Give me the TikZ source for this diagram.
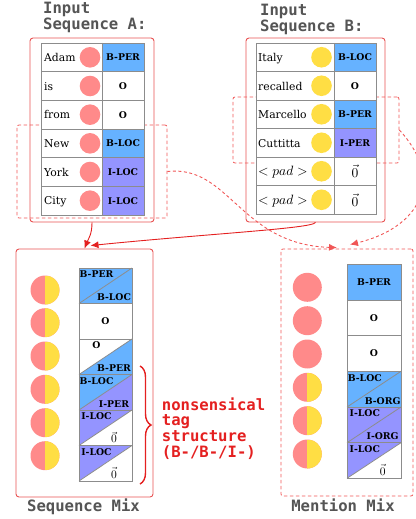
\documentclass[tikz,border=0pt]{standalone}
\usepackage{graphicx}
\usepackage{fontspec}
\setmainfont{DejaVu Serif}
\newfontfamily\monofont{DejaVu Sans Mono}
\usetikzlibrary{arrows.meta,decorations.pathreplacing}
\definecolor{pinkc}{RGB}{255,138,138}
\definecolor{yelc}{RGB}{255,222,68}
\definecolor{bluec}{RGB}{102,178,255}
\definecolor{purc}{RGB}{148,148,255}
\definecolor{redl}{RGB}{232,82,82}
\definecolor{redd}{RGB}{240,86,86}
\definecolor{redt}{RGB}{228,32,32}
\definecolor{grayt}{RGB}{85,85,85}
\definecolor{gridc}{RGB}{140,140,140}
\newcommand\zvec{\scalebox{1.35}{\normalsize$\vec{0}$}}
\newcommand\zvecs{\scalebox{1.15}{\normalsize$\vec{0}$}}
\newcommand\padtxt{\scalebox{1.35}{\normalsize$<pad>$}}
\tikzset{
 mypanel/.style={draw=redl, line width=0.9pt, rounded corners=3pt, inner sep=0pt},
 mydpanel/.style={draw=redd, line width=0.8pt, dash pattern=on 3.5pt off 2.5pt, rounded corners=2pt, inner sep=0pt},
 wordtxt/.style={font=\fontsize{10.8}{12}\selectfont, inner sep=0pt, anchor=base west},
 tagtxt/.style={font=\fontsize{9.3}{10}\selectfont\bfseries, inner sep=0pt},
 circA/.style={circle, inner sep=0pt, minimum size=20.6pt, fill=pinkc},
 circB/.style={circle, inner sep=0pt, minimum size=20.6pt, fill=yelc},
 bigc/.style={circle, inner sep=0pt, minimum size=29pt, fill=pinkc},
 halfc/.style={bigc, path picture={\fill[yelc] (path picture bounding box.north) rectangle (path picture bounding box.south east);}},
 titletxt/.style={font=\fontsize{15.6}{16}\selectfont\monofont\bfseries, text=grayt, inner sep=0pt, anchor=base west},
 notetxt/.style={titletxt, text=redt},
 gridline/.style={draw=gridc, line width=0.8pt},
 conn/.style={draw=redt, line width=0.9pt, -{Latex[length=8pt,width=7pt]}},
 dconn/.style={conn, draw=redd, dash pattern=on 3pt off 2.5pt},
}
\newcommand\dcell[9]{%
 \fill[#6] (#2,#3) -- (#4,#3) -- (#2,#5) -- cycle;
 \fill[#7] (#4,#3) -- (#4,#5) -- (#2,#5) -- cycle;
 \draw[gridline] (#2,#5) -- (#4,#3);
 \node[tagtxt, anchor=base] (#1a) at ({#2+0.33*(#4-#2)},{#3+9.8}) {#8};
 \node[tagtxt, anchor=base] (#1b) at ({#2+0.66*(#4-#2)},{#5-3}) {#9};
}
\newcommand\pcell[7]{%
 \fill[#6] (#2,#3) rectangle (#4,#5);
 \node[tagtxt] (#1a) at ({(#2+#4)/2},{(#3+#5)/2}) {#7};
}
\begin{document}
\begin{tikzpicture}[x=1pt,y=-1pt]
\useasboundingbox (0,0) rectangle (415,519);
% titles
\node[titletxt] (tiA1) at (43,13.3) {Input};
\node[titletxt] (tiA2) at (43,29.3) {Sequence A:};
\node[titletxt] (tiB1) at (260,15.5) {Input};
\node[titletxt] (tiB2) at (260,31.5) {Sequence B:};
% dashed selection boxes
\node[mydpanel, minimum width=150pt, minimum height=93pt] (dashA) at (92,171.5) {};
\node[mydpanel, minimum width=166pt, minimum height=66pt] (dashB) at (316,130) {};
% panels
\node[mypanel, minimum width=124pt, minimum height=184pt] (boxA) at (92,130) {};
\node[mypanel, minimum width=139pt, minimum height=184pt] (boxB) at (315.5,130) {};
\node[mypanel, minimum width=137pt, minimum height=248pt] (seqbox) at (84.5,373) {};
\node[mydpanel, minimum width=132pt, minimum height=247pt] (mentbox) at (347,372.5) {};
% table A
\foreach \w/\t/\c [count=\i] in {Adam/B-PER/bluec,is/O/white,from/O/white,New/B-LOC/bluec,York/I-LOC/purc,City/I-LOC/purc}{
  \pgfmathsetmacro\ya{43+(\i-1)*28.67}
  \pgfmathsetmacro\yb{\ya+28.67}
  \pgfmathsetmacro\ym{\ya+14.33}
  \fill[white] (41,\ya) rectangle (102,\yb);
  \fill[\c] (102,\ya) rectangle (144,\yb);
  \node[wordtxt] (wA\i) at (44,\ym+4.3) {\w};
  \node[circA] (cA\i) at (90,\ym) {};
  \node[tagtxt] (tA\i) at (123,\ym) {\t};
}
\draw[gridline] (41,43) rectangle (144,215) (102,43) -- (102,215);
\foreach \k in {1,...,5} \draw[gridline] (41,43+\k*28.67) -- (144,43+\k*28.67);
% table B
\foreach \w/\t/\c [count=\i] in {Italy/B-LOC/bluec,recalled/O/white,Marcello/B-PER/bluec,Cuttitta/I-PER/purc,\padtxt/\zvec/white,\padtxt/\zvec/white}{
  \pgfmathsetmacro\ya{43+(\i-1)*28.5}
  \pgfmathsetmacro\yb{\ya+28.5}
  \pgfmathsetmacro\ym{\ya+14.25}
  \fill[white] (256,\ya) rectangle (334,\yb);
  \fill[\c] (334,\ya) rectangle (376,\yb);
  \node[wordtxt] (wB\i) at (258,\ym+4.3) {\w};
  \node[circB] (cB\i) at (321.5,\ym) {};
  \node[tagtxt] (tB\i) at (355,\ym) {\t};
}
\draw[gridline] (256,43) rectangle (376,214) (334,43) -- (334,214);
\foreach \k in {1,...,5} \draw[gridline] (256,43+\k*28.5) -- (376,43+\k*28.5);
% sequence mix
\foreach \yy [count=\i] in {290,322.7,356,389.3,422.7,455.7} \node[halfc] (sc\i) at (45,\yy) {};
\dcell{s1}{79}{268}{132}{303.5}{bluec}{bluec}{B-PER}{B-LOC}
\pcell{s2}{79}{303.5}{132}{339}{white}{O}
\dcell{s3}{79}{339}{132}{374.5}{white}{bluec}{O}{B-PER}
\dcell{s4}{79}{374.5}{132}{410}{bluec}{purc}{B-LOC}{I-PER}
\dcell{s5}{79}{410}{132}{445.5}{purc}{white}{I-LOC}{\zvecs}
\dcell{s6}{79}{445.5}{132}{481}{purc}{white}{I-LOC}{\zvecs}
\draw[gridline] (79,268) rectangle (132,481);
\foreach \yy in {303.5,339,374.5,410,445.5} \draw[gridline] (79,\yy) -- (132,\yy);
% mention mix
\foreach \yy [count=\i] in {287.3,320.7,354} \node[bigc] (mc\i) at (307.3,\yy) {};
\foreach \yy [count=\i from 4] in {387.3,420.7,454} \node[halfc] (mc\i) at (307.3,\yy) {};
\pcell{m1}{347}{264.3}{401}{300}{bluec}{B-PER}
\pcell{m2}{347}{300}{401}{335.7}{white}{O}
\pcell{m3}{347}{335.7}{401}{371.3}{white}{O}
\dcell{m4}{347}{371.3}{401}{407}{bluec}{bluec}{B-LOC}{B-ORG}
\dcell{m5}{347}{407}{401}{442.7}{purc}{purc}{I-LOC}{I-ORG}
\dcell{m6}{347}{442.7}{401}{478.3}{purc}{white}{I-LOC}{\zvecs}
\draw[gridline] (347,264.3) rectangle (401,478.3);
\foreach \yy in {300,335.7,371.3,407,442.7} \draw[gridline] (347,\yy) -- (401,\yy);
% brace and note
\draw[redt, line width=1.4pt, decorate, decoration={brace, amplitude=11pt}] (140,366) -- (140,484);
\node[notetxt] (n1) at (161.7,410) {nonsensical};
\node[notetxt] (n2) at (161.7,425.7) {tag};
\node[notetxt] (n3) at (161.7,441.5) {structure};
\node[notetxt] (n4) at (161.7,457) {(B-/B-/I-)};
% labels
\node[titletxt, anchor=base] (lab1) at (83.5,511.5) {Sequence Mix};
\node[titletxt, anchor=base] (lab2) at (343,511.5) {Mention Mix};
% connectors
\draw[conn] (boxA.south) .. controls +(0,12) and +(4,-10) .. (seqbox.north);
\draw[conn] (boxB.south) .. controls +(-3,6) and +(120,-12) .. ([shift={(6,-3)}]seqbox.north);
\draw[dconn] (dashA.east) .. controls +(62,-7) and +(-97,-3) .. ([shift={(-10,-1)}]mentbox.north);
\draw[dconn] (dashB.east) .. controls +(46,50) and +(70,-17) .. ([shift={(3,-4)}]mentbox.north);
\end{tikzpicture}
\end{document}
